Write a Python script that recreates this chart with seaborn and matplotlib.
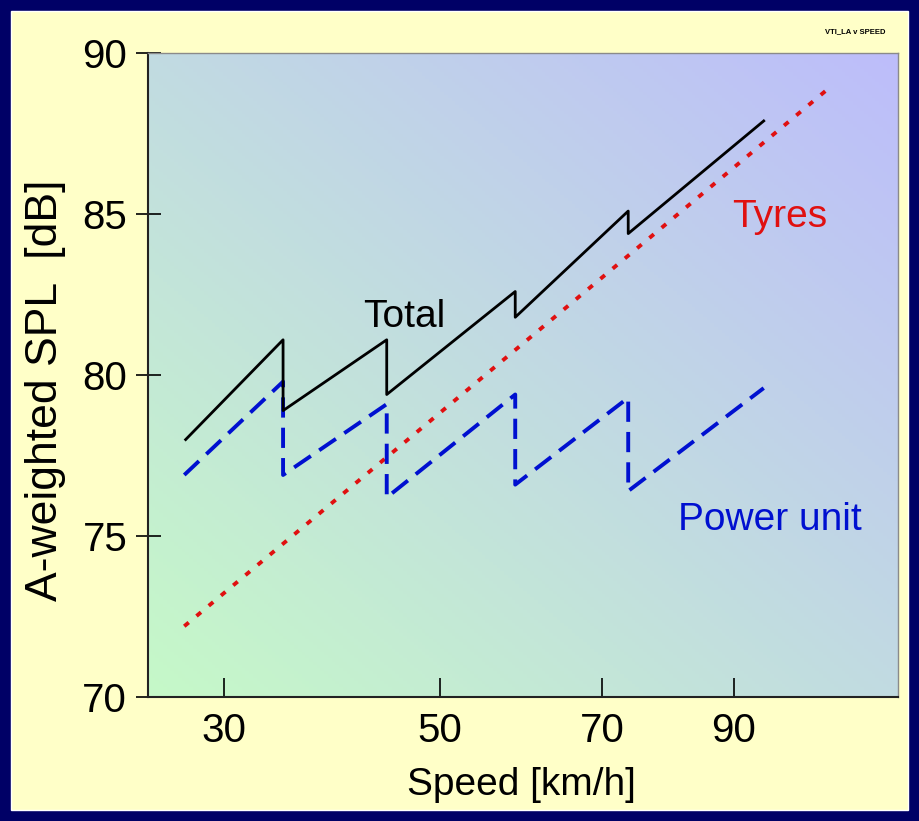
# -*- coding: utf-8 -*-
"""
A-weighted SPL against speed: total, tyres and power unit.
"""

# Importing libraries.
import numpy as np
import matplotlib
matplotlib.use("Agg")
import matplotlib.pyplot as plt
from matplotlib.patches import Rectangle
from matplotlib.colors import to_rgb
import seaborn as sns

plt.rcParams['font.family'] = ['Liberation Sans', 'DejaVu Sans']

# Data.
speed_total = [27.2, 34.8, 34.8, 44.4, 44.4, 58.7, 58.7, 73.7, 73.7, 95.0]
level_total = [78.0, 81.1, 78.9, 81.1, 79.4, 82.6, 81.8, 85.1, 84.4, 87.9]

speed_power = [27.1, 34.8, 34.8, 44.4, 44.4, 58.7, 58.7, 73.7, 73.7, 95.0]
level_power = [76.9, 79.8, 76.9, 79.1, 76.2, 79.4, 76.6, 79.3, 76.4, 79.6]

speed_tyres = [27.1, 106.5]
level_tyres = [72.2, 88.9]

x_ticks = [30, 50, 70, 90]
y_ticks = [70, 75, 80, 85, 90]

# Colours.
navy = "#000066"
panel_yellow = "#FFFFC8"
grad_low = "#C6F9C8"    # bottom-left of plot area
grad_high = "#BDBDFB"   # top-right of plot area


def power_fwd(v):
    return np.power(np.clip(v, 1e-6, None), 0.3)


def power_inv(u):
    return np.power(np.clip(u, 1e-6, None), 1 / 0.3)


fig = plt.figure(figsize=(9.19, 8.21), dpi=100)
fig.patch.set_facecolor(navy)

# Pale yellow panel inside the navy frame.
fig.add_artist(Rectangle((11 / 919, 11 / 821), 897 / 919, 799 / 821,
                         transform=fig.transFigure, facecolor=panel_yellow,
                         edgecolor="white", lw=1.0, zorder=-1))

pos = [0.161, 0.151, 0.816, 0.784]

# Gradient background of the plot area.
bg = fig.add_axes(pos, zorder=0)
n = 200
gx, gy = np.meshgrid(np.linspace(0, 1, n), np.linspace(0, 1, n))
t = (gx + gy) / 2
c0 = np.array(to_rgb(grad_low))
c1 = np.array(to_rgb(grad_high))
img = c0[None, None, :] * (1 - t[..., None]) + c1[None, None, :] * t[..., None]
bg.imshow(img, origin="lower", extent=[0, 1, 0, 1], aspect="auto")
bg.set_axis_off()

ax = fig.add_axes(pos, zorder=1)
ax.patch.set_alpha(0)

# Plotting the three curves.
sns.lineplot(x=speed_tyres, y=level_tyres, sort=False, estimator=None, ax=ax,
             color="#E01010", lw=2.8, linestyle=(0, (1.5, 2.6)))
sns.lineplot(x=speed_power, y=level_power, sort=False, estimator=None, ax=ax,
             color="#0010D0", lw=2.8, linestyle=(0, (5.2, 2.6)))
sns.lineplot(x=speed_total, y=level_total, sort=False, estimator=None, ax=ax,
             color="black", lw=2.0)

ax.set_xscale("function", functions=(power_fwd, power_inv))
ax.set_xlim(24.6, 120)
ax.set_ylim(70, 90)
ax.set_xticks(x_ticks)
ax.set_xticklabels([str(v) for v in x_ticks])
ax.set_yticks(y_ticks)
ax.set_yticklabels([str(v) for v in y_ticks])
ax.minorticks_off()

ax.tick_params(axis="x", direction="in", length=14, width=1.2, labelsize=29, pad=11)
ax.tick_params(axis="y", direction="inout", length=18, width=1.2, labelsize=29, pad=6)

for side in ["left", "bottom"]:
    ax.spines[side].set_color("#222222")
    ax.spines[side].set_linewidth(1.5)
for side in ["top", "right"]:
    ax.spines[side].set_color("#8a8a8a")
    ax.spines[side].set_linewidth(1.0)

ax.set_xlabel("")
ax.set_ylabel("")

# Curve names.
ax.text(46.2, 81.8, "Total", fontsize=28, color="black", ha="center", va="center")
ax.text(97.8, 84.9, "Tyres", fontsize=28, color="#E01010", ha="center", va="center")
ax.text(96.1, 75.5, "Power unit", fontsize=28, color="#0010D0", ha="center", va="center")

# Axis labels and the small tag.
fig.text(0.567, 0.044, "Speed [km/h]", fontsize=28, ha="center", va="center")
fig.text(0.049, 0.525, "A-weighted SPL  [dB]", fontsize=32, rotation=90,
         ha="center", va="center")
fig.text(0.931, 0.961, "VTI_LA v SPEED", fontsize=5.5, fontweight="bold",
         ha="center", va="center")

fig.savefig("out.png", dpi=100, facecolor=fig.get_facecolor())
